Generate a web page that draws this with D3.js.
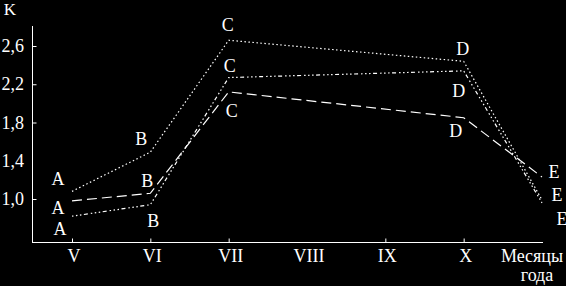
<!DOCTYPE html>
<html>
<head>
<meta charset="utf-8">
<script src="https://cdn.jsdelivr.net/npm/d3@7"></script>
<style>
html,body{margin:0;padding:0;background:#000;}
svg{display:block;}
text{font-family:"Liberation Serif","DejaVu Serif","Times New Roman",serif;fill:#fff;}
</style>
</head>
<body>
<script>
// Months (numeric positions) and their labels
const months = [5, 6, 7, 10, 11];
const monthTicks = [5, 6, 7, 8, 9, 10];
const monthLabels = ["V", "VI", "VII", "VIII", "IX", "X"];
const yTicks = [1.0, 1.4, 1.8, 2.2, 2.6];
const yTickLabels = ["1,0", "1,4", "1,8", "2,2", "2,6"];
const pointLetters = ["A", "B", "C", "D", "E"];

// Series values (K)
const seriesDotted = [1.08, 1.49, 2.66, 2.44, 0.99];
const seriesDashed = [0.98, 1.06, 2.12, 1.85, 1.23];
const seriesDotDash = [0.82, 0.94, 2.27, 2.34, 0.96];

const W = 566, H = 286;
const FONT = '"Liberation Serif","DejaVu Serif","Times New Roman",serif';
const svg = d3.select("body").append("svg").attr("width", W).attr("height", H)
  .attr("font-family", FONT);
svg.append("rect").attr("width", W).attr("height", H).attr("fill", "#000");

const x = d3.scaleLinear().domain([5, 11]).range([72, 542]);
const y = d3.scaleLinear().domain([1.0, 2.6]).range([199, 46]);

const axisX0 = 32, axisY0 = 242, axisTop = 26, axisRight = 543;

// Axes lines
svg.append("line").attr("x1", axisX0 + 0.5).attr("x2", axisX0 + 0.5)
  .attr("y1", axisTop).attr("y2", axisY0 + 0.5)
  .attr("stroke", "#fff").attr("stroke-width", 1);
svg.append("line").attr("x1", axisX0).attr("x2", axisRight)
  .attr("y1", axisY0 + 0.5).attr("y2", axisY0 + 0.5)
  .attr("stroke", "#fff").attr("stroke-width", 1);

// Y axis via d3 axis (inward ticks)
const yAxis = d3.axisRight(y).tickValues(yTicks).tickSize(4).tickFormat("");
const gy = svg.append("g").attr("transform", `translate(${axisX0 + 0.5},0)`).call(yAxis);
gy.select(".domain").remove();
gy.selectAll(".tick line").attr("stroke", "#fff")
  .attr("display", d => d === 1.4 ? "none" : null);
svg.append("g").selectAll("text").data(yTicks).join("text")
  .attr("font-family", FONT)
  .attr("x", 24).attr("y", d => y(d))
  .attr("text-anchor", "end").attr("dominant-baseline", "central")
  .attr("font-size", 18)
  .text((d, i) => yTickLabels[i]);

// X axis via d3 axis (inward ticks)
const xAxis = d3.axisTop(x).tickValues(monthTicks).tickSize(4).tickFormat("");
const gx = svg.append("g").attr("transform", `translate(0,${axisY0 + 0.5})`).call(xAxis);
gx.select(".domain").remove();
gx.selectAll(".tick line").attr("stroke", "#fff")
  .attr("display", d => d === 8 ? "none" : null);
svg.append("g").selectAll("text").data(monthTicks).join("text")
  .attr("font-family", FONT)
  .attr("x", d => x(d) + 2).attr("y", 262)
  .attr("text-anchor", "middle").attr("font-size", 18)
  .text((d, i) => monthLabels[i]);

// Axis titles
svg.append("text").attr("font-family", FONT).attr("x", 10).attr("y", 15).attr("text-anchor", "middle")
  .attr("font-size", 17).text("K");
svg.append("text").attr("font-family", FONT).attr("x", 532).attr("y", 262).attr("text-anchor", "middle")
  .attr("font-size", 18).text("Месяцы");
svg.append("text").attr("font-family", FONT).attr("x", 537).attr("y", 281).attr("text-anchor", "middle")
  .attr("font-size", 18).text("года");

// Lines
const series = [
  { values: seriesDotted, dash: "1.5,2.5", offsets: [[-14,-12],[-9,-13],[-1,-15],[-1,-12],[15,-5]] },
  { values: seriesDashed, dash: "10,5", offsets: [[-14,7],[-3,-12],[3,19],[-8,13],[12,-5]] },
  { values: seriesDotDash, dash: "1.5,2.5,1.5,2.5,1.5,2.5,4,3", offsets: [[-12,13],[3,16],[1,-12],[-5,20],[20,16]] }
];

const line = d3.line().x((d, i) => x(months[i])).y(d => y(d));

series.forEach(s => {
  svg.append("path").datum(s.values)
    .attr("d", line)
    .attr("fill", "none").attr("stroke", "#fff").attr("stroke-width", 1.2)
    .attr("stroke-dasharray", s.dash);
  svg.append("g").selectAll("text").data(s.values).join("text")
    .attr("font-family", FONT)
    .attr("x", (d, i) => x(months[i]) + s.offsets[i][0])
    .attr("y", (d, i) => y(d) + s.offsets[i][1])
    .attr("text-anchor", "middle").attr("dominant-baseline", "central")
    .attr("font-size", 18)
    .text((d, i) => pointLetters[i]);
});
</script>
</body>
</html>
